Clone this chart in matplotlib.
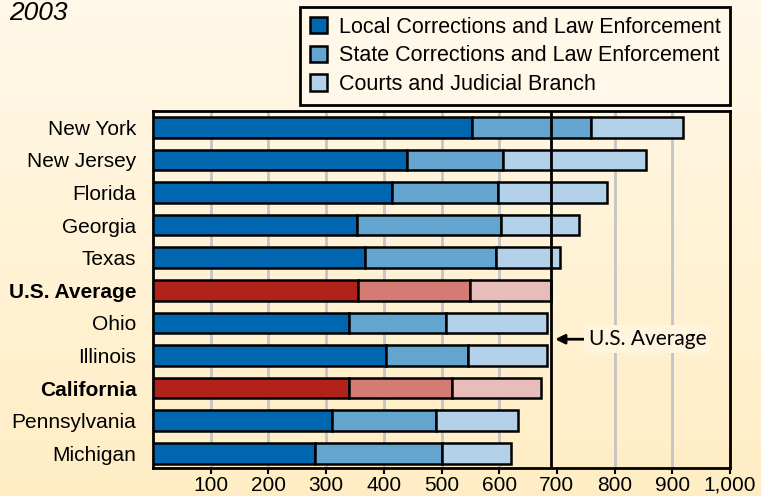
import numpy as np
import matplotlib.pyplot as plt
from matplotlib.patches import Patch

plt.rcParams['font.family'] = ['Liberation Sans', 'DejaVu Sans']

# данные (долл. на душу населения, 2003)
states = ["New York", "New Jersey", "Florida", "Georgia", "Texas", "U.S. Average",
          "Ohio", "Illinois", "California", "Pennsylvania", "Michigan"]
local = [553, 440, 415, 353, 367, 356, 339, 404, 340, 311, 280]
state = [206, 166, 183, 250, 227, 193, 169, 142, 179, 179, 220]
courts = [159, 249, 189, 136, 111, 140, 175, 136, 154, 143, 120]
highlight = ["U.S. Average", "California"]

series_names = ["Local Corrections and Law Enforcement",
                "State Corrections and Law Enforcement",
                "Courts and Judicial Branch"]
tick_vals = [100, 200, 300, 400, 500, 600, 700, 800, 900, 1000]
tick_labels = ["100", "200", "300", "400", "500", "600", "700", "800", "900", "1,000"]
grid_vals = [100, 200, 300, 400, 500, 600, 800, 900]

blues = ["#0066b0", "#64a5cf", "#b3d1e9"]
reds = ["#b0221a", "#d47b73", "#e8bcba"]

W, H = 761, 496
fig = plt.figure(figsize=(W / 100, H / 100), dpi=100)

# фон с градиентом
bg = fig.add_axes([0, 0, 1, 1], zorder=-10)
top = np.array([1.0, 0.973, 0.910])
bot = np.array([1.0, 0.929, 0.769])
t = np.linspace(0, 1, 200)[:, None]
grad = top[None, :] * (1 - t) + bot[None, :] * t
bg.imshow(grad[:, None, :], aspect="auto", extent=[0, 1, 0, 1])
bg.axis("off")

ax = fig.add_axes([153 / W, 1 - 468 / H, (730 - 153) / W, (468 - 111) / H])
ax.patch.set_alpha(0)

y = np.arange(len(states))
local = np.array(local)
state = np.array(state)
courts = np.array(courts)
totals = local + state + courts

for i, name in enumerate(states):
    cols = reds if name in highlight else blues
    lefts = [0, local[i], local[i] + state[i]]
    widths = [local[i], state[i], courts[i]]
    for j in range(3):
        ax.barh(y[i], widths[j], left=lefts[j], height=0.63, color=cols[j],
                edgecolor="black", linewidth=1.8, zorder=3)

for g in grid_vals:
    ax.axvline(g, color="#c4c4c4", linewidth=2, zorder=1)

# линия среднего по США
avg = totals[states.index("U.S. Average")]
ax.axvline(avg, color="black", linewidth=2, zorder=5)
ax.annotate("U.S. Average", xy=(avg + 8, 6.5), xytext=(avg + 66, 6.5),
            va="center", ha="left", fontsize=15, family=["Lato", "DejaVu Sans"],
            arrowprops=dict(arrowstyle="-|>", color="black", lw=2, mutation_scale=14,
                            shrinkA=0, shrinkB=0),
            bbox=dict(boxstyle="square,pad=0.2", fc="#fff5de", ec="none"), zorder=6)

ax.set_xlim(0, 1000)
ax.set_ylim(10.45, -0.5)
ax.set_xticks(tick_vals)
ax.set_xticklabels(tick_labels, fontsize=15)
ax.set_yticks(y)
ax.set_yticklabels(states, fontsize=15)
for lbl in ax.get_yticklabels():
    if lbl.get_text() in highlight:
        lbl.set_fontweight("bold")
ax.tick_params(axis="y", length=0, pad=12)
ax.tick_params(axis="x", direction="out", length=4, width=1.5, pad=1.5)
for s in ax.spines.values():
    s.set_linewidth(2)

handles = [Patch(facecolor=c, edgecolor="black", linewidth=1.8) for c in blues]
leg = fig.legend(handles, series_names, loc="upper right",
                 bbox_to_anchor=(730 / W, 1 - 7 / H), borderaxespad=0, fontsize=15.5,
                 frameon=True, fancybox=False, edgecolor="black", facecolor="#fff8e8",
                 framealpha=1, handlelength=0.8, handleheight=0.8, handletextpad=0.55,
                 labelspacing=0.36, borderpad=0.45)
leg.get_frame().set_linewidth(2)

fig.text(9 / W, 1 - 20 / H, "2003", fontsize=19, style="italic", va="baseline")

fig.savefig("out.png", dpi=100)
